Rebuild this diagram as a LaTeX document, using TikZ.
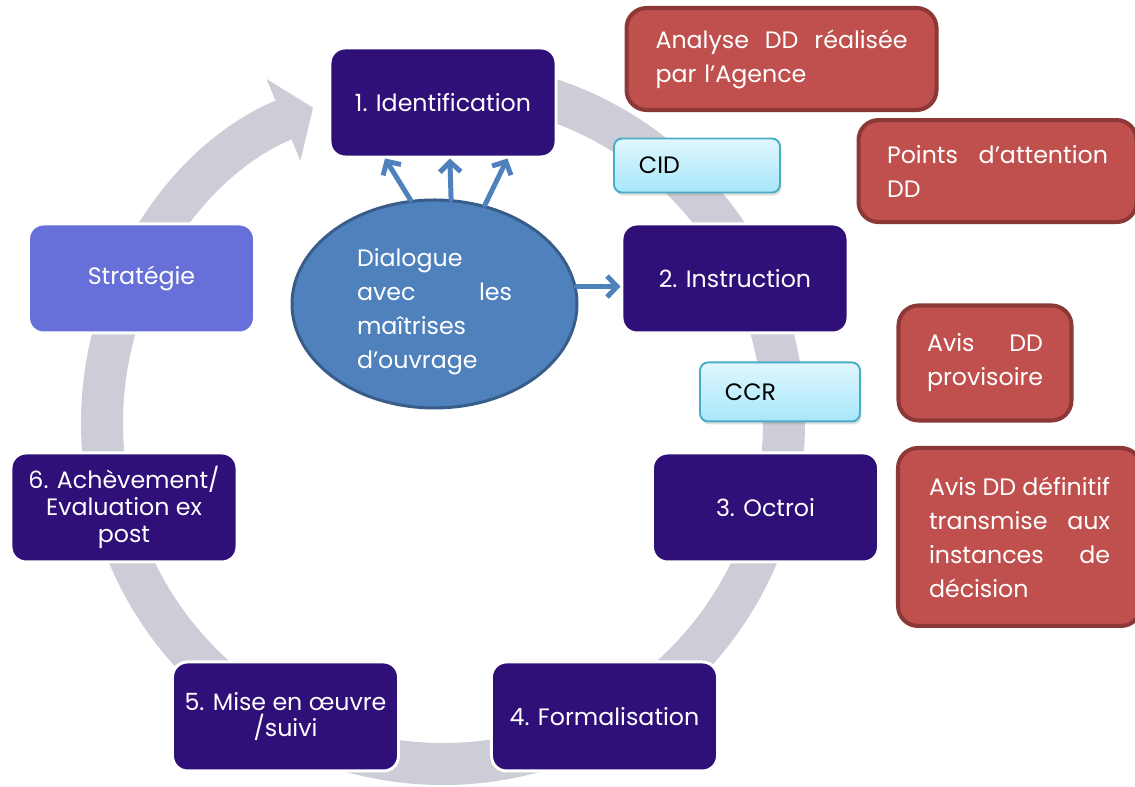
\documentclass[tikz,border=0pt]{standalone}
\usepackage{fontspec}
\setmainfont{Poppins}
\usetikzlibrary{positioning, arrows.meta, shapes.geometric, shadows}
\definecolor{phaseblue}{RGB}{46,16,120}
\definecolor{stratblue}{RGB}{102,112,216}
\definecolor{dialblue}{RGB}{79,129,189}
\definecolor{dialdark}{RGB}{56,93,138}
\definecolor{notered}{RGB}{192,80,77}
\definecolor{notedark}{RGB}{140,56,54}
\definecolor{cyantop}{RGB}{224,247,254}
\definecolor{cyanbot}{RGB}{167,231,250}
\definecolor{cyanline}{RGB}{75,172,198}
\definecolor{ringgray}{RGB}{205,205,216}
\tikzset{
    phase/.style={rectangle, rounded corners=0.3cm, draw=white, line width=1.7pt, fill=phaseblue, text=white, minimum width=4.52cm, minimum height=2.18cm, align=center, font=\fontsize{13.5}{15.2}\selectfont}, % the six steps of the cycle
    dialogue/.style={ellipse, draw=dialdark, line width=1.7pt, fill=dialblue, text=white, inner sep=0pt, align=left},
    note/.style={rectangle, rounded corners=0.4cm, draw=notedark, line width=2.3pt, fill=notered, text=white, inner sep=0pt, align=left}, % DD remarks on the right
    comite/.style={rectangle, rounded corners=0.16cm, draw=cyanline, line width=1.1pt, top color=cyantop, bottom color=cyanbot, inner xsep=0.5cm, inner ysep=0pt, align=left, drop shadow={opacity=0.25, shadow xshift=0.03cm, shadow yshift=-0.06cm}},
    ring/.style={draw=ringgray, line width=0.84cm, -{Triangle[length=0.64cm, width=1.74cm]}}, % big grey cycle arrow
    link/.style={draw=dialblue, line width=0.1cm, line cap=round, -{Straight Barb[length=0.2cm, width=0.42cm]}}
}

\begin{document}
\begin{tikzpicture}[every node/.style={font=\fontsize{13.5}{19.3}\selectfont}]

        \useasboundingbox (-8.86,2.05) rectangle (13.84,-13.69);
        \coordinate (hub) at (0,-6.41);
        \draw[ring] ([shift={(90:6.82)}]hub) arc[start angle=90, end angle=-247.6, radius=6.82];

        \node[phase] (ident) at (0,0) {1. Identification};
        \node[phase,below right=1.28cm and 1.26cm of ident] (instr) {2. Instruction};
        \node[phase,below=2.34cm of instr,xshift=0.61cm] (octroi) {3. Octroi};
        \node[phase,below=1.94cm of octroi,xshift=-3.22cm] (formal) {4. Formalisation};
        \node[phase,left=1.8cm of formal] (mise) {5. Mise en œuvre\\/suivi};
        \node[phase,above=1.94cm of mise,xshift=-3.23cm] (achev) {6. Achèvement/\\Evaluation ex\\post};
        \node[phase,fill=stratblue,above=2.34cm of achev,xshift=0.35cm] (strat) {Stratégie};

        \node[dialogue,below=0.8cm of ident,xshift=-0.17cm,minimum width=5.7cm,minimum height=4.16cm,text width=3.1cm] (dial) {\rule{0pt}{0.67cm}Dialogue\\avec\hfill les\\maîtrises\\d’ouvrage};

        \draw[link] (dial.103) -- (ident.-136);
        \draw[link] (dial.81) -- (ident.-83);
        \draw[link] (dial.63) -- (ident.-41);
        \draw[link] (dial.7) -- (dial.7 -| instr.west);

        \node[note,right=1.34cm of ident,yshift=0.87cm,minimum width=6.2cm,minimum height=2.04cm,text width=5.04cm] (analyse) {Analyse\hfill DD\hfill réalisée\\par l’Agence};
        \node[note,below=0.12cm of analyse,xshift=4.32cm,minimum width=5.56cm,minimum height=2.04cm,text width=4.42cm] (points) {Points\hfill d’attention\\DD};
        \node[note,right=0.94cm of instr,yshift=-1.69cm,minimum width=3.46cm,minimum height=2.3cm,text width=2.32cm] (provis) {Avis\hfill DD\\provisoire};
        \node[note,right=0.32cm of octroi,yshift=-0.59cm,minimum width=4.86cm,minimum height=3.56cm,text width=3.62cm] (defin) {Avis\hfill DD\hfill définitif\\transmise\hfill aux\\instances\hfill de\\décision};

        \node[comite,above=0.58cm of instr,xshift=-0.76cm,minimum width=3.32cm,minimum height=1.08cm,text width=2.32cm] (cid) {CID};
        \node[comite,below=0.54cm of instr,xshift=0.9cm,minimum width=3.2cm,minimum height=1.18cm,text width=2.2cm] (ccr) {CCR};

    \end{tikzpicture}
\end{document}
